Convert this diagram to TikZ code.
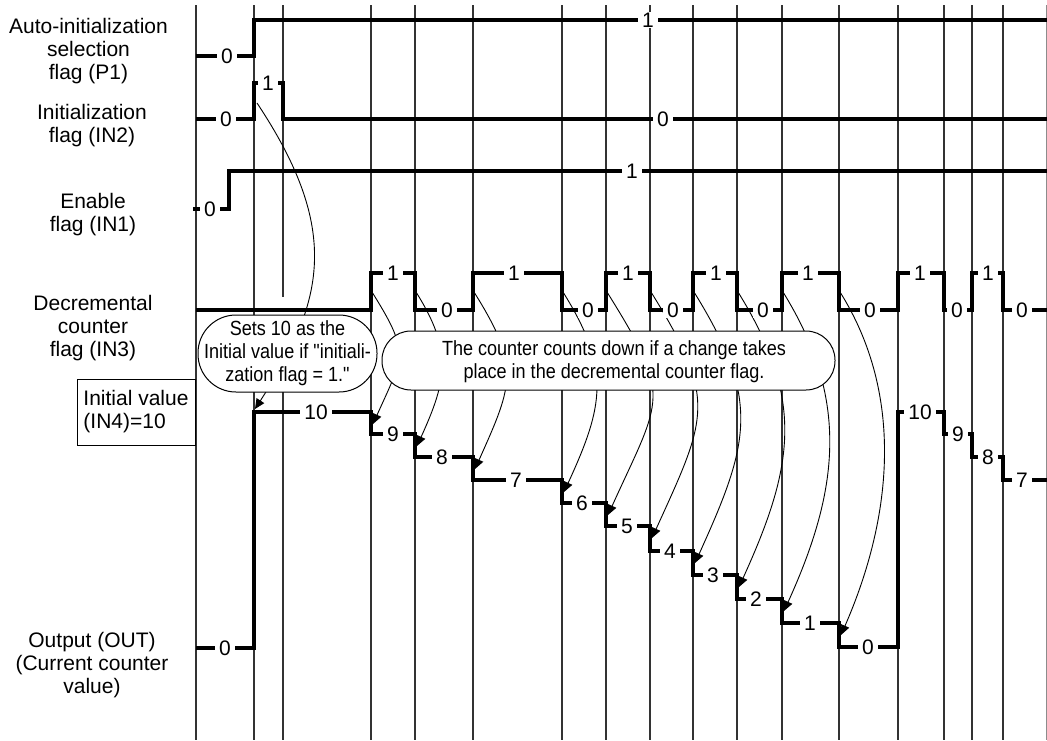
\documentclass[tikz,border=0pt]{standalone}
\usepackage{fontspec}
\setmainfont{Liberation Sans}
\newfontfamily\narrowfont[FakeStretch=0.88]{Liberation Sans}
\usetikzlibrary{arrows.meta}
\begin{document}
\begin{tikzpicture}[x=1pt,y=-1pt,
  gridl/.style={line width=1.1pt, black!80},
  wave/.style={line width=3.3pt, line join=miter, line cap=butt},
  lvl/.style={fill=white, inner xsep=4pt, inner ysep=0.5pt, font=\fontsize{21}{21}\selectfont},
  rowlab/.style={align=center, inner sep=0pt, font=\fontsize{21}{23}\selectfont},
  curv/.style={line width=0.9pt, -{Triangle[length=10pt,width=9pt]}},
  callout/.style={draw, line width=1pt, fill=white, align=center, inner sep=0pt,
    font=\narrowfont\fontsize{20.5}{23}\selectfont},
  ctext/.style={align=center, inner sep=0pt, font=\narrowfont\fontsize{20.5}{23}\selectfont}
]
\useasboundingbox (0,0) rectangle (1047,740);
\fill[white] (0,0) rectangle (1047,740);

% vertical time grid
\foreach \gx in {196,254,371,415,473,562,606,650,693,737,782,839,898,944,972,1003}
  \draw[gridl] (\gx,5) -- (\gx,740);
\draw[gridl] (283,5) -- (283,297);
\draw[gridl] (283,392) -- (283,740);
\draw[line width=1.1pt, black!45] (1046.3,5) -- (1046.3,740);

% curve anchor coordinates
\coordinate (ini) at (257,103);
\coordinate (inie) at (255,409);
\foreach \i/\xe/\yv in {1/371/412,2/415/434,3/473/457,4/562/480,5/606/503,6/650/526,7/693/551,8/737/575,9/782/599,10/839/623}{
  \coordinate (cs\i) at (\xe+1,292);
  \coordinate (ce\i) at (\xe+2,\yv+12);
}

% cause -> effect curves
\draw[curv] (ini) .. controls +(85,128) and +(69,-107) .. (inie);
\draw[curv] (cs1) .. controls +(38,61) and +(31,-69) .. (ce1);
\draw[curv] (cs2) .. controls +(37,59) and +(30,-66) .. (ce2);
\draw[curv] (cs3) .. controls +(47,75) and +(38,-85) .. (ce3);
\draw[curv] (cs4) .. controls +(48,77) and +(40,-87) .. (ce4);
\draw[curv] (cs5) .. controls +(66,106) and +(54,-119) .. (ce5);
\draw[curv] (cs6) .. controls +(67,108) and +(55,-121) .. (ce6);
\draw[curv] (cs7) .. controls +(67,108) and +(55,-121) .. (ce7);
\draw[curv] (cs8) .. controls +(67,108) and +(55,-121) .. (ce8);
\draw[curv] (cs9) .. controls +(67,108) and +(55,-121) .. (ce9);
\draw[curv] (cs10) .. controls +(64,102) and +(52,-119) .. (ce10);

% callouts
\node[callout, rounded corners=38pt, minimum width=179pt, minimum height=77pt] (co1) at (287.5,353.5)
  {Sets 10 as the\\Initial value if "initiali-\\zation flag = 1."};
\node[callout, rounded corners=29pt, minimum width=453pt, minimum height=59pt] (co2) at (608.5,360.5) {};
\node[ctext] (co2t) at (614,362)
  {The counter counts down if a change takes\\place in the decremental counter flag.};

% waveforms
\draw[wave] (196,56) -- (254,56) -- (254,20) -- (1047,20);
\draw[wave] (196,119) -- (254,119) -- (254,83) -- (283,83) -- (283,119) -- (1047,119);
\draw[wave] (193,209) -- (229,209) -- (229,171) -- (1047,171);
\draw[wave] (196,310) -- (371,310) -- (371,273) -- (415,273) -- (415,310) -- (473,310)
  -- (473,273) -- (562,273) -- (562,310) -- (606,310) -- (606,273) -- (650,273)
  -- (650,310) -- (693,310) -- (693,273) -- (737,273) -- (737,310) -- (782,310)
  -- (782,273) -- (839,273) -- (839,310) -- (898,310) -- (898,273) -- (944,273)
  -- (944,310) -- (972,310) -- (972,273) -- (1003,273) -- (1003,310) -- (1047,310);
\draw[wave] (196,648) -- (254,648) -- (254,412) -- (371,412) -- (371,434) -- (415,434)
  -- (415,457) -- (473,457) -- (473,480) -- (562,480) -- (562,503) -- (606,503)
  -- (606,526) -- (650,526) -- (650,551) -- (693,551) -- (693,575) -- (737,575)
  -- (737,599) -- (782,599) -- (782,623) -- (839,623) -- (839,647) -- (898,647)
  -- (898,412) -- (944,412) -- (944,434) -- (972,434) -- (972,457) -- (1003,457)
  -- (1003,480) -- (1047,480);

% level values
\node[lvl] (p1a) at (227,56) {0};
\node[lvl] (p1b) at (648,20) {1};
\node[lvl] (i2a) at (226,119) {0};
\node[lvl] (i2b) at (268,83) {1};
\node[lvl] (i2c) at (663,119) {0};
\node[lvl] (i1a) at (210,209) {0};
\node[lvl] (i1b) at (632,171) {1};
\foreach \i/\xx in {1/393,2/514,3/628,4/716,5/808,6/920,7/988}
  \node[lvl] (i3h\i) at (\xx,273) {1};
\foreach \i/\xx in {1/447,2/588,3/673,4/763,5/870,6/957,7/1022}
  \node[lvl] (i3l\i) at (\xx,310) {0};
\foreach \i/\xx/\yy/\v in {1/225/648/0,2/316/412/10,3/393/434/9,4/442/457/8,5/516/480/7,
  6/582/503/6,7/627/526/5,8/670/551/4,9/713/575/3,10/756/599/2,11/810/623/1,12/868/647/0,
  13/920/412/10,14/958/434/9,15/988/457/8,16/1022/480/7}
  \node[lvl] (o\i) at (\xx,\yy) {\v};

% row labels
\node[rowlab] (lp1) at (88.5,51) {Auto-initialization\\selection\\flag (P1)};
\node[rowlab] (lin2) at (92,126) {Initialization\\flag (IN2)};
\node[rowlab] (lin1) at (93,214.5) {Enable\\flag (IN1)};
\node[rowlab] (lin3) at (93,328) {Decremental\\counter\\flag (IN3)};
\node[rowlab] (lout) at (92,665) {Output (OUT)\\(Current counter\\value)};
\node[draw, line width=1pt, fill=white, align=left, inner sep=0pt, minimum width=118pt,
  minimum height=66pt, font=\fontsize{21}{23}\selectfont] (lin4) at (136,412)
  {Initial value\\(IN4)=10};
\end{tikzpicture}
\end{document}
